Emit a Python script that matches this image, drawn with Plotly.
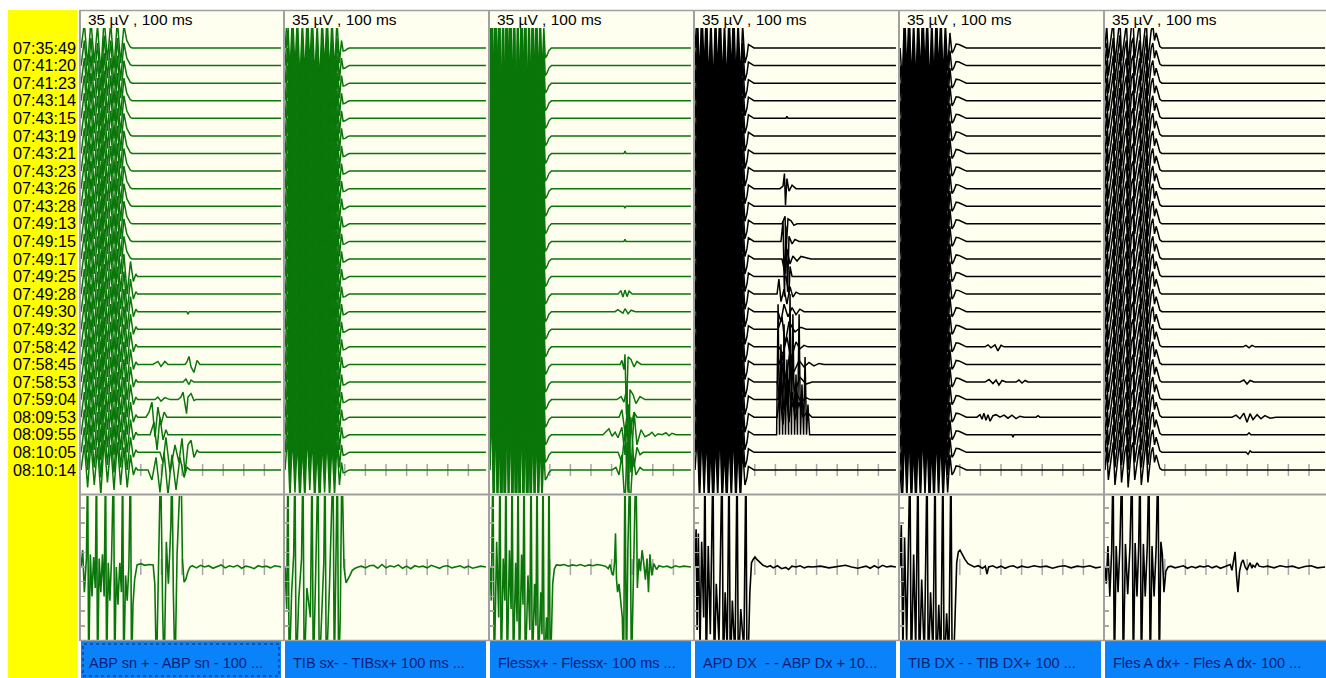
import plotly.graph_objects as go

W, H = 1326, 678

# ---------------- data ----------------
TIMES = ["07:35:49", "07:41:20", "07:41:23", "07:43:14", "07:43:15", "07:43:19", "07:43:21",
         "07:43:23", "07:43:26", "07:43:28", "07:49:13", "07:49:15", "07:49:17", "07:49:25",
         "07:49:28", "07:49:30", "07:49:32", "07:58:42", "07:58:45", "07:58:53", "07:59:04",
         "08:09:53", "08:09:55", "08:10:05", "08:10:14"]
CHANNELS = ["ABP sn + - ABP sn - 100 ...", "TIB sx- - TIBsx+ 100 ms ...", "Flessx+ - Flessx- 100 ms ...",
            "APD DX\u00a0 - - ABP Dx + 10...", "TIB DX - - TIB DX+ 100 ...", "Fles A dx+ - Fles A dx- 100 ..."]
SCALE_LABEL = "35 µV , 100 ms"
LANE_UV = 70                       # spacing of stacked sweeps (µV)
SWEEP_END = [98.5, 98.5, 98.5, 98.5, 98.5, 107.8]   # ms
TICK_MS = [[30, 40, 50, 60, 70, 80, 90]] * 5 + [[30, 40, 50, 60, 70, 80, 90, 100]]

# stimulus artifacts of the stacked sweeps (ms, µV)
P1_ART_T = [1.0, 2.6, 4.2, 5.8, 7.4, 9.0, 10.6, 12.2, 13.8, 15.4, 17.0, 18.6, 20.2, 21.8, 23.2, 24.1, 24.9, 25.8]
P1_ART_V = [0, 100, -70, 110, -60, 90, -100, 120, -50, 100, -80, 110, -60, 90, 30, 14, 4, 0]
P1_ART2_T = [1.0, 2.6, 4.2, 5.8, 7.4, 9.0, 10.6, 12.2, 13.8, 15.4, 17.0, 18.6, 20.2, 21.8, 23.4, 25.0, 26.4,
             27.6, 28.4]
P1_ART2_V = [0, 100, -70, 110, -60, 90, -100, 120, -50, 100, -80, 110, -60, 90, -70, 60, -20, 10, 0]
P2_ART_T = [1.0, 2.2, 3.4, 4.6, 5.8, 7.0, 8.2, 9.4, 10.6, 11.8, 13.0, 14.2, 15.4, 16.6, 17.8, 19.0, 20.2, 21.4,
            22.6, 23.8, 25.0, 26.2, 27.4, 28.4, 29.2, 30.2, 31.2, 32.2]
P2_ART_V = [0, 140, -110, 150, -90, 130, -140, 110, -120, 160, -80, 140, -130, 100, -150, 130, -90, 140, -110,
            120, -100, 110, -60, 30, -12, -10, -4, 0]
P3_ART_T = [1.0, 1.9, 2.8, 3.7, 4.6, 5.5, 6.4, 7.3, 8.2, 9.1, 10.0, 10.9, 11.8, 12.7, 13.6, 14.5, 15.4, 16.3,
            17.2, 18.1, 19.0, 19.9, 20.8, 21.7, 22.6, 23.5, 24.4, 25.3, 26.2, 27.1, 27.8, 28.6, 29.6, 30.8]
P3_ART_V = [0, 280, -240, 300, -200, 260, -300, 220, -280, 310, -180, 270, -260, 240, -300, 200, -250, 290,
            -220, 260, -280, 180, -240, 250, -200, 220, -180, 160, -120, 80, -40, -30, -10, 0]
P4_ART_T = [1.0, 2.1, 3.2, 4.3, 5.4, 6.5, 7.6, 8.7, 9.8, 10.9, 12.0, 13.1, 14.2, 15.3, 16.4, 17.5, 18.6, 19.7,
            20.8, 21.9, 23.0, 24.1, 25.2, 26.2, 26.9, 27.7, 28.6, 29.6]
P4_ART_V = [0, 150, -130, 170, -100, 160, -150, 120, -170, 140, -110, 180, -140, 100, -160, 150, -120, 170,
            -140, 110, -130, 90, -60, -30, 14, 10, 4, 0]
P5_ART_T = [1.0, 2.1, 3.2, 4.3, 5.4, 6.5, 7.6, 8.7, 9.8, 10.9, 12.0, 13.1, 14.2, 15.3, 16.4, 17.5, 18.6, 19.7,
            20.8, 21.9, 23.0, 24.1, 25.2, 26.2, 27.0, 28.2, 29.6, 31.2, 33.2]
P5_ART_V = [0, -140, 160, -120, 170, -150, 110, -160, 150, -130, 170, -100, 140, -170, 120, -150, 160, -110,
            140, -130, 100, -90, 60, -20, -10, 16, 14, 8, 0]
P6_ART_T = [1.0, 1.8, 2.6, 4.2, 5.0, 5.8, 7.4, 8.2, 9.0, 10.6, 11.4, 12.2, 13.8, 14.6, 15.4, 17.0, 17.8, 18.6,
            20.2, 21.0, 21.8, 23.4, 24.2, 25.0, 25.8, 26.8, 27.6, 28.6]
P6_ART_V = [0, 90, -40, 60, 110, -60, 80, 120, -50, 70, 100, -70, 90, 110, -40, 60, 100, -60, 80, 120, -50, 70,
            90, 30, 60, 24, 6, 0]

ART_T = [[P1_ART_T, P1_ART2_T], [P2_ART_T], [P3_ART_T], [P4_ART_T], [P5_ART_T], [P6_ART_T]]
ART_V = [[P1_ART_V, P1_ART2_V], [P2_ART_V], [P3_ART_V], [P4_ART_V], [P5_ART_V], [P6_ART_V]]
P1_ART_VARIANT = [0, 0, 0, 0, 0, 0, 0, 0, 0, 0, 0, 0, 0, 1, 1, 1, 1, 1, 1, 1, 1, 1, 1, 1, 1]

# evoked responses in the stacked sweeps: row index, times (ms), values (µV)
P1_RESP_ROWS = [15, 18, 19, 20, 21, 22, 23, 24]
P1_RESP_T = [[52.3, 52.9, 53.5],
             [35.9, 38.3, 39.8, 41.7, 43.2, 51.5, 52.4, 53.4, 54.4, 55.8, 57.3, 58.7],
             [50.5, 51.9, 53.4, 54.4, 55.8],
             [36.9, 38.3, 39.8, 41.7, 44.2, 48.1, 49.5, 50.5, 51.5, 52.2, 52.9, 54.4, 55.8, 56.8],
             [32.5, 34.0, 35.4, 36.9, 38.3, 39.8, 41.3, 42.7],
             [34.5, 36.4, 37.9, 39.3, 40.8, 42.2, 43.2],
             [39.3, 40.8, 42.2, 44.2, 46.6, 48.5, 50.0, 51.5, 52.9, 54.4, 55.8, 57.3, 58.3],
             [33.5, 35.4, 37.4, 39.3, 41.3, 43.2, 45.1, 47.1, 49.0, 51.0, 52.4, 53.9]]
P1_RESP_V = [[0, -10, 0],
             [0, 12, -8, 12, 0, 0, 10, 32, -10, -32, 16, 0],
             [0, 12, -10, 8, 0],
             [0, 10, -6, 8, 0, 0, 10, 30, -20, -56, 10, 24, -4, 0],
             [0, 20, 60, -80, 40, -30, 20, 0],
             [0, 50, -60, 70, -20, 20, 0],
             [0, -40, 60, -80, 30, -40, 56, -84, 30, 48, -20, 8, 0],
             [0, -40, 50, -90, 70, -100, 60, -80, 50, -30, 10, 0]]
P2_RESP_ROWS = []
P2_RESP_T = []
P2_RESP_V = []
P3_RESP_ROWS = [6, 9, 11, 14, 15, 18, 20, 21, 22, 23, 24]
P3_RESP_T = [[66.0, 66.5, 67.0],
             [66.0, 66.5, 67.0],
             [66.0, 66.5, 67.0],
             [63.1, 64.5, 65.5, 66.5, 67.5, 68.5, 70.0],
             [61.7, 63.0, 65.5, 66.5, 68.0, 69.5, 71.5],
             [64.1, 65.0, 66.0, 66.5, 67.2, 68.0, 69.4, 70.9, 72.3, 74.3],
             [62.6, 64.6, 66.0, 67.5, 68.2, 68.9, 70.4, 71.8, 73.8, 76.2],
             [63.6, 65.0, 66.5, 68.0, 69.4, 70.9, 72.3],
             [55.8, 57.3, 58.7, 60.2, 61.7, 63.1, 65.0, 66.5, 68.0, 69.4, 70.9, 72.3, 74.3, 76.2, 78.2,
              79.6, 81.1, 82.5, 84.5, 86.4, 87.9, 89.3, 91.3],
             [63.1, 65.0, 66.5, 68.0, 69.4, 70.9, 72.3, 73.8, 75.2],
             [60.2, 62.1, 63.6, 65.0, 66.5, 67.5, 68.9, 70.4, 71.8, 73.8, 75.2]]
P3_RESP_V = [[0, 10, 0],
             [0, -8, 0],
             [0, 8, 0],
             [0, 14, -12, 16, -10, 12, 0],
             [0, 8, -6, 12, -8, 6, 0],
             [0, 16, -20, 40, -200, 30, 20, -10, 12, 0],
             [0, 12, -10, 50, -340, 40, 20, -16, 12, 0],
             [0, 30, -60, 50, -40, 20, 0],
             [0, 14, 24, -6, 10, -12, 30, -80, 120, -150, 90, -40, 20, -8, 0, 10, -6, 4, 0, 8, -4, 6, 0],
             [0, -40, 90, -160, 140, -60, 20, -10, 0],
             [0, 10, -20, 60, -150, 110, -160, 60, -20, 10, 0]]
P4_RESP_ROWS = [4, 8, 10, 11, 12, 13, 14, 15, 16, 17, 18, 19, 20, 21, 22]
P4_RESP_T = [[45.1, 45.6, 46.1],
             [42.2, 43.7, 44.4, 44.9, 45.6, 46.6, 48.1, 50.0],
             [43.2, 44.7, 45.1, 46.1, 47.6, 49.0, 50.5],
             [42.7, 43.7, 44.4, 45.1, 45.9, 46.6, 48.1, 49.5, 51.5],
             [43.2, 44.7, 45.6, 47.1, 48.5, 50.5, 52.4, 54.9, 57.3],
             [45.1, 46.6, 47.1, 48.1],
             [40.8, 41.7, 42.7, 44.2, 45.6, 47.1, 48.5, 50.0, 51.9],
             [41.3, 42.7, 44.2, 46.1, 48.1, 50.0, 51.9, 53.9],
             [41.3, 43.2, 44.7, 46.6, 49.5, 52.4, 54.9],
             [41.7, 43.7, 45.6, 47.6, 50.0, 51.9, 53.9, 55.8],
             [41.7, 43.2, 45.1, 47.1, 49.0, 51.5, 53.9, 56.3, 58.7, 61.2, 63.6],
             [40.8, 42.2, 43.7, 45.6, 47.6, 49.5, 51.9, 54.9, 57.8],
             [41.3, 42.7, 44.2, 46.1, 48.1, 50.0, 52.4, 54.9, 56.8],
             [40.8, 42.2, 43.7, 45.1, 46.6, 48.1, 49.5, 51.5, 53.4, 55.3, 57.8],
             [40.6, 41.3, 42.0, 42.7, 43.5, 44.2, 44.9, 45.6, 46.4, 47.1, 47.8, 48.5, 49.3, 50.0, 50.7,
              51.5, 52.2, 52.9, 53.7, 54.4, 55.1, 55.8, 56.6]]
P4_RESP_V = [[0, 8, 0],
             [0, 10, 60, -66, 40, -10, 14, 0],
             [0, 30, -120, 20, 12, -6, 0],
             [0, 80, -220, 60, -200, 20, -10, 8, 0],
             [0, -60, 40, -20, 12, -8, 10, 4, 0],
             [0, -70, 40, 0],
             [0, 60, -30, 20, -40, 30, -12, 8, 0],
             [0, -40, 30, -20, 16, -12, 10, 0],
             [0, 50, -60, 30, -10, 8, 0],
             [0, -30, 40, -50, 20, -8, 6, 0],
             [0, 40, -60, 50, -30, 16, -10, 8, -6, 4, 0],
             [0, -60, 80, -90, 60, -40, 20, -8, 0],
             [0, 70, -40, 80, -30, 30, -10, 8, 0],
             [0, 90, -30, 120, -20, 100, -10, 60, 0, 20, 0],
             [0, 520, 0, 360, 0, 440, 0, 300, 0, 560, 0, 480, 0, 240, 0, 480, 0, 200, 0, 310, 0, 120, 0]]
P5_RESP_ROWS = [17, 19, 21, 22]
P5_RESP_T = [[42.2, 43.7, 45.1, 47.1, 48.5, 50.0, 51.5],
             [42.2, 44.2, 46.1, 47.6, 49.0, 50.5, 52.4, 57.3, 58.7, 60.2, 61.7, 63.1],
             [38.3, 39.8, 40.8, 41.7, 42.7, 43.7, 44.7, 46.1, 47.6, 49.5, 51.5, 53.4, 55.3, 57.3, 59.2,
              61.2, 67.0, 68.0, 68.9],
             [55.3, 55.8, 56.3]]
P5_RESP_V = [[0, 8, -4, 8, -16, 6, 0],
             [0, 10, -6, 8, -12, 6, 0, 0, 8, -4, 6, 0],
             [0, 10, -8, 16, -12, 10, -16, 6, 10, 0, 8, -4, 8, -6, 4, 0, 0, 6, 0],
             [0, -10, 0]]
P6_RESP_ROWS = [17, 19, 21, 22, 23]
P6_RESP_T = [[68.0, 69.4, 70.9, 72.3, 73.8],
             [66.5, 68.4, 69.9, 71.4, 73.3],
             [62.6, 64.6, 66.5, 68.4, 69.9, 71.4, 72.8, 74.8, 76.7, 78.6, 81.1, 84.0],
             [70.0, 70.9, 71.8],
             [69.5, 70.4, 71.4, 72.3]]
P6_RESP_V = [[0, 6, -4, 6, 0],
             [0, 8, -8, 6, 0],
             [0, 8, -6, 16, -20, 14, -10, 10, -6, 6, -4, 0],
             [0, 8, 0],
             [0, -8, 6, 0]]
RESP_ROWS = [P1_RESP_ROWS, P2_RESP_ROWS, P3_RESP_ROWS, P4_RESP_ROWS, P5_RESP_ROWS, P6_RESP_ROWS]
RESP_T = [P1_RESP_T, P2_RESP_T, P3_RESP_T, P4_RESP_T, P5_RESP_T, P6_RESP_T]
RESP_V = [P1_RESP_V, P2_RESP_V, P3_RESP_V, P4_RESP_V, P5_RESP_V, P6_RESP_V]

# enlarged single sweep (lower window), ms / µV
P1_BOT_T = [1.0, 1.8, 2.6, 3.6, 4.2, 4.7, 5.5, 6.3, 7.1, 7.9, 8.5, 9.0, 9.8, 10.6, 11.4, 12.2, 12.9, 13.4,
            14.2, 15.0, 15.8, 16.8, 17.3, 18.1, 18.9, 19.8, 20.6, 21.2, 21.7, 22.6, 23.4, 24.2, 25.0, 25.5,
            26.2, 27.0, 28.2, 30.0, 32.0, 34.0, 36.0, 36.8, 37.6, 38.6, 39.6, 40.6, 41.3, 42.4, 43.4, 44.6,
            45.1, 45.8, 46.6, 47.6, 48.5, 49.5, 50.2, 51.0, 51.8, 52.8, 53.9, 55, 57, 59, 61, 63, 65, 67, 69,
            71, 73, 75, 77, 79, 81, 83, 85, 87, 89, 91, 93, 95, 98.5]
P1_BOT_V = [0, 40, -60, 20, 260, -260, 30, -70, 24, -50, 260, -260, 20, -60, 30, -70, 260, -260, 10, -80,
            20, 260, -260, 0, -90, 10, -60, 260, -260, -20, -80, 0, 260, -260, -90, -30, 5, 8, 4, 6, 5, -40,
            -260, 40, 260, -100, -260, 60, -40, 100, 260, -60, -260, 30, 120, 260, 20, -36, -30, -12, 0, 3,
            -2, 4, 0, 3, -3, 2, 5, -2, 3, 0, 4, -3, 2, 0, -4, 3, 0, 2, -2, 3, 0]
P2_BOT_T = [1.0, 1.8, 2.4, 3.0, 4.2, 5.2, 5.8, 6.4, 7.6, 9.0, 9.7, 10.3, 11.6, 13.3, 14.1, 14.7, 15.8, 17.0,
            17.6, 18.8, 19.8, 20.4, 21.0, 22.6, 24.3, 24.9, 25.8, 26.4, 27.0, 27.8, 28.6, 29.6, 30.6, 31.6,
            32.5, 33.6, 35.0, 36.5, 38, 40, 42, 44, 46, 48, 50, 52, 54, 56, 58, 60, 62, 64, 66, 68, 70, 72,
            74, 76, 78, 80, 82, 84, 86, 88, 90, 92, 94, 96, 98.5]
P2_BOT_V = [0, -100, 260, -260, -60, 30, 260, -260, -80, 20, 260, -260, -50, -120, 260, -260, -30, 260,
            -260, -90, 10, 260, -260, -40, 260, -260, 30, 260, -260, -120, 260, 0, -38, -30, -20, -8, -3, 0,
            2, -2, 3, 4, -3, 6, -2, 3, 0, 5, -3, 2, -4, 3, 0, 2, -2, 4, 0, -3, 2, 3, -2, 0, 3, -2, 2, -3, 0,
            2, 0]
P3_BOT_T = [1.0, 1.6, 2.4, 3.0, 4.2, 5.2, 5.8, 6.4, 7.4, 8.2, 8.7, 9.3, 10.4, 11.2, 11.7, 12.3, 13.4, 14.1,
            14.6, 15.2, 16.3, 17.0, 17.5, 18.1, 19.4, 20.3, 20.9, 21.5, 22.6, 23.3, 23.8, 24.4, 25.6, 26.2,
            26.7, 27.3, 28.4, 29.1, 29.6, 30.2, 30.8, 31.4, 32.2, 33.2, 35, 37, 39, 41, 43, 45, 47, 49, 51,
            53, 55, 57, 58.4, 59.2, 60.0, 60.8, 61.4, 61.9, 62.4, 62.9, 63.6, 64.4, 65.2, 65.8, 66.5, 67.2,
            67.9, 68.9, 69.6, 70.6, 71.8, 72.5, 73.3, 74.0, 74.8, 75.6, 76.4, 77.2, 77.9, 78.6, 79.5, 80.5,
            81.8, 83, 85, 87, 89, 91, 93, 95, 98.5]
P3_BOT_V = [0, -80, 260, -260, 60, -120, 260, -260, 20, -80, 260, -260, 40, -100, 260, -260, 10, -130, 260,
            -260, 30, -90, 260, -260, -20, -150, 260, -260, -40, -140, 260, -260, -60, -160, 260, -260, -120,
            -200, 260, -260, -160, -40, -5, 5, 4, 6, 2, 5, 3, 6, 2, 5, 3, 6, 4, 2, -4, 6, -12, -20, 10, 80,
            -30, -60, -40, -80, -120, -260, 260, -260, 40, 260, -260, -20, 260, -50, 20, -10, 40, 10, -30,
            20, -60, 30, -20, 8, -6, 3, 0, 2, -2, 3, 0, 2, 0]
P4_BOT_T = [1.0, 1.5, 2.0, 2.6, 3.4, 4.2, 5.2, 5.8, 6.4, 7.4, 8.4, 9.7, 10.3, 11.3, 12.6, 14.1, 14.7, 15.6,
            16.6, 17.5, 18.1, 19.1, 20.4, 21.4, 22.0, 23.2, 24.7, 25.7, 26.2, 26.9, 27.6, 28.4, 29.2, 30.1,
            31.0, 32.5, 34.0, 36.0, 37.5, 39.0, 41.0, 43.0, 45.0, 46.4, 48.0, 50.0, 52.0, 54.0, 56.0, 58.0,
            62.0, 66.0, 70.0, 74.0, 77.0, 80.0, 84.0, 86.0, 88.0, 90.0, 92.0, 94.0, 96.0, 98.5]
P4_BOT_V = [0, 90, -150, 80, -200, 60, -120, 260, -260, 50, -160, 260, -260, -40, -180, 260, -260, -60,
            -200, 260, -260, -80, -220, 260, -260, -100, -200, 260, -260, -200, -60, 10, 18, 24, 18, 10, 4, 0,
            3, -2, 3, -4, -1, -6, 2, 0, 3, -2, 1, 0, 2, -2, 1, 4, 0, -3, 2, -3, 3, -2, 4, 0, 2, 0]
P5_BOT_T = [1.0, 1.6, 2.4, 3.2, 4.2, 5.0, 5.8, 6.4, 7.6, 8.6, 9.7, 10.3, 11.5, 12.8, 14.1, 14.7, 15.8, 17.0,
            18.0, 18.6, 19.8, 20.8, 21.8, 22.4, 23.6, 24.7, 25.7, 26.3, 27.0, 27.7, 28.5, 29.3, 30.1, 31.0,
            32.5, 34.0, 35.5, 37.0, 39.0, 41.0, 42.4, 43.2, 44.0, 46.0, 48.0, 50.0, 52.0, 54.0, 56.0, 58.0,
            60.0, 63.0, 66.0, 69.0, 72.0, 75.0, 78.0, 81.0, 84.0, 87.0, 90.0, 93.0, 96.0, 98.5]
P5_BOT_V = [0, 100, -200, 70, -180, 40, 260, -260, 30, -200, 260, -260, -30, -220, 260, -260, -60, -210,
            260, -260, -90, -230, 260, -260, -110, -220, 260, -260, -230, -120, 10, 36, 40, 32, 18, 8, 3, 0,
            3, -3, 2, -17, 0, 3, -2, 2, -3, 1, 3, -2, 2, -1, 3, 0, 2, -3, 1, 3, -2, 2, 0, 3, -2, 0]
P6_BOT_T = [1.0, 1.6, 2.4, 3.3, 4.2, 4.9, 5.5, 6.4, 7.3, 8.2, 9.2, 9.8, 10.9, 12.0, 13.1, 14.1, 14.7, 15.6,
            16.5, 17.3, 18.0, 18.6, 19.6, 20.5, 21.5, 22.3, 22.9, 23.8, 24.8, 25.8, 26.7, 27.3, 28.1, 28.8,
            29.6, 30.5, 31.6, 33, 35, 37, 39, 41, 43, 45, 47, 49, 51, 53, 55, 57, 58.8, 60.5, 61.8, 62.6,
            63.4, 64.1, 64.8, 65.5, 66.3, 67.2, 68.0, 69.0, 69.9, 70.7, 71.4, 72.3, 72.8, 73.8, 74.8, 75.8,
            77.7, 80, 83, 86, 89, 92, 95, 98, 101, 104, 107.8]
P6_BOT_V = [0, -40, 50, -70, 40, 260, -260, 50, -60, 50, 260, -260, 55, -65, 50, 260, -260, 57, -70, 45,
            260, -260, 55, -70, 50, 260, -260, 50, -70, 45, 260, -260, 60, 30, -60, -10, 0, 2, -2, 0, 3, -3,
            1, -2, 2, 0, 3, -2, 2, -3, 0, 3, 6, -8, 14, 36, -20, -60, -10, 10, 17, 0, -7, 5, 10, -3, 4, 0,
            10, 2, 0, 2, -2, 3, 0, 2, -3, 1, 3, -2, 0]
BOT_T = [P1_BOT_T, P2_BOT_T, P3_BOT_T, P4_BOT_T, P5_BOT_T, P6_BOT_T]
BOT_V = [P1_BOT_V, P2_BOT_V, P3_BOT_V, P4_BOT_V, P5_BOT_V, P6_BOT_V]

for a, b in zip(BOT_T, BOT_V):
    assert len(a) == len(b), (len(a), len(b))
for ta, va in zip(ART_T, ART_V):
    for a, b in zip(ta, va):
        assert len(a) == len(b), (len(a), len(b))
for tr, vr, rows in zip(RESP_T, RESP_V, RESP_ROWS):
    assert len(tr) == len(vr) == len(rows)
    for a, b in zip(tr, vr):
        assert len(a) == len(b), (len(a), len(b))

# ---------------- layout / style (window pixel positions) ----------------
PANEL_LEFT = [80, 284, 489, 694, 899, 1104]
PANEL_RIGHT = [281, 486, 691, 896, 1101, 1326]
PX_PER_MS = 2.06
TOP_PX = (28, 493)
TOP_BASE_PX = 48
TOP_PX_PER_UV = 17.58 / LANE_UV
BOT_PX = (496, 640)
BOT_BASE_PX = 567
BOT_PX_PER_UV = 0.42
TRACE_COLORS = ["#0a760a", "#0a760a", "#0a760a", "#000000", "#000000", "#000000"]
TICK_COLOR = "#a6a6a6"
BORDER = "#a0a0a0"
CREAM = "#fffff0"
YELLOW = "#ffff00"
BLUE = "#0a82fa"
LABEL_BLUE = "#0c1f78"
FONT = "Liberation Sans, Arial, sans-serif"


def fx(px):
    return px / W


def fy(py):
    return 1 - py / H


fig = go.Figure()
layout = dict(width=W, height=H, autosize=False, margin=dict(l=0, r=0, t=0, b=0), paper_bgcolor="white",
              plot_bgcolor=CREAM, showlegend=False, hovermode=False, template="none")

n_rows = len(TIMES)
for p in range(6):
    L, R = PANEL_LEFT[p], PANEL_RIGHT[p]
    xr = [(L + 1 - (L - 1)) / PX_PER_MS, (R - (L - 1)) / PX_PER_MS]
    top_i, bot_i = 2 * p + 1, 2 * p + 2
    xa = dict(domain=[fx(L + 1), min(fx(R), 1.0)], range=xr, visible=False, fixedrange=True)
    layout["xaxis" if top_i == 1 else f"xaxis{top_i}"] = dict(xa, anchor=f"y{'' if top_i == 1 else top_i}")
    layout[f"xaxis{bot_i}"] = dict(xa, anchor=f"y{bot_i}")
    top_range = [-(TOP_PX[1] - TOP_BASE_PX) / TOP_PX_PER_UV, (TOP_BASE_PX - TOP_PX[0]) / TOP_PX_PER_UV]
    ya_top = dict(domain=[fy(TOP_PX[1]), fy(TOP_PX[0])], range=top_range, showgrid=False, zeroline=False,
                  showline=False, ticks="", showticklabels=False, fixedrange=True,
                  anchor=f"x{'' if top_i == 1 else top_i}")
    if p == 0:
        ya_top.update(showticklabels=True, tickmode="array",
                      tickvals=[-LANE_UV * k for k in range(n_rows)], ticktext=TIMES,
                      ticklabelstandoff=4,
                      tickfont=dict(family=FONT, size=16.2, color="black"))
    layout["yaxis" if top_i == 1 else f"yaxis{top_i}"] = ya_top
    bot_range = [-(BOT_PX[1] - BOT_BASE_PX) / BOT_PX_PER_UV, (BOT_BASE_PX - BOT_PX[0]) / BOT_PX_PER_UV]
    layout[f"yaxis{bot_i}"] = dict(domain=[fy(BOT_PX[1]), fy(BOT_PX[0])], range=bot_range, showgrid=False,
                                   zeroline=False, showline=False, ticks="inside", ticklen=4,
                                   tickcolor=TICK_COLOR, tickwidth=1.5, dtick=35, tick0=0,
                                   showticklabels=False, fixedrange=True, anchor=f"x{bot_i}")

    xname = "x" if top_i == 1 else f"x{top_i}"
    yname = "y" if top_i == 1 else f"y{top_i}"
    last_off = -LANE_UV * (n_rows - 1)

    # time ticks on last sweep and on enlarged sweep
    tx, ty, bx, by = [], [], [], []
    for t in TICK_MS[p]:
        tx += [t, t, None]
        ty += [last_off - 24, last_off + 24, None]
        bx += [t, t, None]
        by += [-19, 19, None]
    fig.add_trace(go.Scatter(x=tx, y=ty, mode="lines", line=dict(color=TICK_COLOR, width=1.5),
                             xaxis=xname, yaxis=yname))
    fig.add_trace(go.Scatter(x=bx, y=by, mode="lines", line=dict(color=TICK_COLOR, width=1.5),
                             xaxis=f"x{bot_i}", yaxis=f"y{bot_i}"))

    # stacked sweeps
    xs, ys = [], []
    for k in range(n_rows):
        off = -LANE_UV * k
        var = P1_ART_VARIANT[k] if p == 0 else 0
        t_art, v_art = ART_T[p][var], ART_V[p][var]
        xs += list(t_art)
        ys += [v + off for v in v_art]
        if k in RESP_ROWS[p]:
            j = RESP_ROWS[p].index(k)
            xs += RESP_T[p][j]
            ys += [v + off for v in RESP_V[p][j]]
        xs += [SWEEP_END[p], None]
        ys += [off, None]
    fig.add_trace(go.Scatter(x=xs, y=ys, mode="lines", line=dict(color=TRACE_COLORS[p], width=1.5),
                             xaxis=xname, yaxis=yname))

    # enlarged sweep
    fig.add_trace(go.Scatter(x=BOT_T[p], y=BOT_V[p], mode="lines",
                             line=dict(color=TRACE_COLORS[p], width=1.6),
                             xaxis=f"x{bot_i}", yaxis=f"y{bot_i}"))

# ---------------- decorations ----------------
shapes = []
shapes.append(dict(type="rect", xref="paper", yref="paper", x0=fx(80), x1=fx(1326), y0=fy(641), y1=fy(10),
                   fillcolor=CREAM, line=dict(width=0), layer="below"))
shapes.append(dict(type="rect", xref="paper", yref="paper", x0=fx(8), x1=fx(77), y0=fy(678), y1=fy(10),
                   fillcolor=YELLOW, line=dict(width=0), layer="below"))
shapes.append(dict(type="line", xref="paper", yref="paper", x0=fx(80), x1=fx(1326), y0=fy(10.5), y1=fy(10.5),
                   line=dict(color=BORDER, width=1.5)))
shapes.append(dict(type="line", xref="paper", yref="paper", x0=fx(80), x1=fx(1326), y0=fy(494.5),
                   y1=fy(494.5), line=dict(color=BORDER, width=2)))
annotations = []
for p in range(6):
    L, R = PANEL_LEFT[p], PANEL_RIGHT[p]
    shapes.append(dict(type="line", xref="paper", yref="paper", x0=fx(L), x1=fx(L), y0=fy(641), y1=fy(10),
                       line=dict(color=BORDER, width=2)))
    shapes.append(dict(type="rect", xref="paper", yref="paper", x0=fx(L + 1), x1=fx(R),
                       y0=fy(678), y1=fy(641), fillcolor=BLUE, line=dict(width=0)))
    annotations.append(dict(xref="paper", yref="paper", x=fx(L + 6), y=fy(20), xanchor="left",
                            yanchor="middle", text=SCALE_LABEL, showarrow=False,
                            font=dict(family=FONT, size=15.5, color="black")))
    annotations.append(dict(xref="paper", yref="paper", x=fx(L + 7), y=fy(663), xanchor="left",
                            yanchor="middle", text=CHANNELS[p], showarrow=False,
                            font=dict(family=FONT, size=14.5, color=LABEL_BLUE)))
shapes.append(dict(type="line", xref="paper", yref="paper", x0=fx(80), x1=fx(1326), y0=fy(640.5),
                   y1=fy(640.5), line=dict(color=BORDER, width=1.5)))
shapes.append(dict(type="rect", xref="paper", yref="paper", x0=fx(83), x1=fx(279), y0=fy(676), y1=fy(644),
                   fillcolor="rgba(0,0,0,0)", line=dict(color="#10205a", width=1, dash="dot")))

layout["shapes"] = shapes
layout["annotations"] = annotations
fig.update_layout(**layout)
fig.write_html("out.html", default_width=f"{W}px", default_height=f"{H}px",
               config={"displayModeBar": False, "staticPlot": True},
               post_script="document.body.style.margin='0';"
                           "document.documentElement.style.overflow='hidden';"
                           "document.body.style.overflow='hidden';")
